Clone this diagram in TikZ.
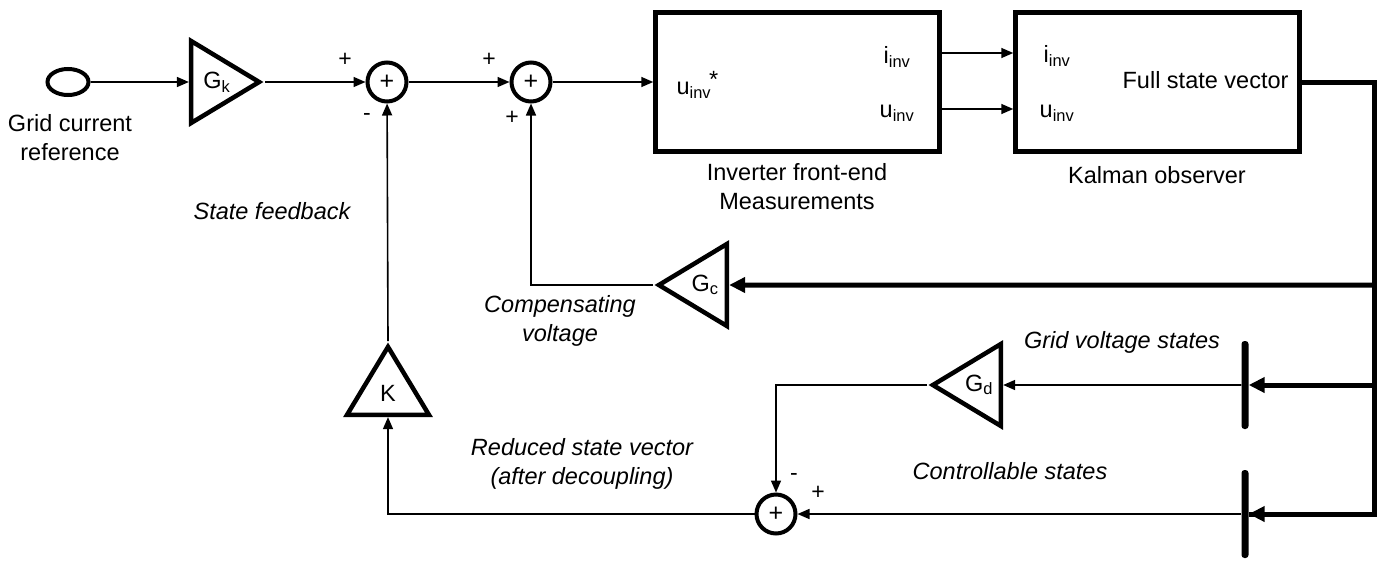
\documentclass[tikz,border=0pt]{standalone}
\usepackage{fontspec}
\setmainfont{Liberation Sans}
\usetikzlibrary{positioning, arrows.meta, shapes.geometric}

\tikzset{
  sig/.style={line width=1.6pt, -{Triangle[length=12pt,width=10pt]}},
  bus/.style={line width=5pt, -{Triangle[length=16pt,width=15pt]}},
  blockbox/.style={draw, line width=4.5pt, minimum width=284pt, minimum height=139pt, inner sep=0pt},
  gain/.style={draw, line width=4.5pt, isosceles triangle, isosceles triangle stretches,
    minimum height=68pt, minimum width=82pt, inner sep=0pt, font=\fontsize{23.5}{28}\selectfont},
  sumnode/.style={draw, circle, line width=4pt, minimum size=39pt, inner sep=0pt, font=\fontsize{25}{25}\selectfont},
  sign/.style={font=\fontsize{23}{23}\selectfont},
  busbar/.style={fill, rounded corners=3pt, minimum width=7pt, inner sep=0pt},
  lbl/.style={font=\fontsize{23.5}{29}\selectfont, align=center},
  note/.style={lbl, font=\fontsize{23.5}{29}\selectfont\itshape},
}

\begin{document}
\begin{tikzpicture}[x=1pt, y=-1pt]
\useasboundingbox (0,0) rectangle (1380,560);

% forward path
\node[draw, ellipse, line width=4pt, minimum width=41pt, minimum height=26pt, inner sep=0pt] (ref) at (68,82) {};
\node[lbl] (reftxt) at (70,138) {Grid current\\reference};
\node[gain, anchor=apex] (gk) at (265,82) {\hspace{6pt}G\textsubscript{k}};
\node[sumnode] (s1) at (387,82) {+};
\node[sumnode] (s2) at (531,82) {+};
\node[blockbox] (inv) at (797.5,82) {};
\node[blockbox] (kal) at (1157.5,82) {};

\node[lbl, anchor=west] (uref) at (673,85) {u\textsubscript{inv}\kern-2pt\raisebox{7pt}{*}};
\node[lbl] (iout) at (897,57) {i\textsubscript{inv}};
\node[lbl] (uout) at (897,113) {u\textsubscript{inv}};
\node[lbl] (iin) at (1057,56) {i\textsubscript{inv}};
\node[lbl] (uin) at (1057,113) {u\textsubscript{inv}};
\node[lbl, anchor=east] (xfull) at (1292,80) {Full state vector};
\node[lbl] (invtxt) at (797,187) {Inverter front-end\\Measurements};
\node[lbl] (kaltxt) at (1157,175) {Kalman observer};

% feedback blocks
\node[gain, shape border rotate=180, anchor=apex] (gc) at (653,285) {G\textsubscript{c}};
\node[gain, shape border rotate=180, anchor=apex] (gd) at (927,385) {G\textsubscript{d}};
\node[gain, shape border rotate=90, anchor=apex] (k) at (388,341) {K};
\node[sumnode] (s3) at (776,514) {+};
\node[busbar, minimum height=88pt] (bar1) at (1245,385) {};
\node[busbar, minimum height=88pt] (bar2) at (1245,514) {};

\coordinate (tr0) at (1374,82);
\coordinate (tr1) at (1374,285);
\coordinate (tr2) at (1374,385);
\coordinate (tr3) at (1374,514);

% signs
\node[sign] at (345,60) {+};
\node[sign] at (367,117) {-};
\node[sign] at (489,60) {+};
\node[sign] at (512,118) {+};
\node[sign] at (794,477) {-};
\node[sign] at (818,493) {+};

% notes
\node[note] at (272,211) {State feedback};
\node[note] at (560,321) {Compensating\\voltage};
\node[note] at (1122,342) {Grid voltage states};
\node[note] at (1010,471) {Controllable states};
\node[note] at (582,464) {Reduced state vector\\(after decoupling)};

% connections
\draw[sig] (ref) -- (gk);
\draw[sig] (gk) -- (s1);
\draw[sig] (s1) -- (s2);
\draw[sig] (s2) -- (inv);
\draw[sig] ([yshift=29pt]inv.east) -- ([yshift=29pt]kal.west);
\draw[sig] ([yshift=-27pt]inv.east) -- ([yshift=-27pt]kal.west);
\draw[line width=5pt] (kal.east) -- (tr0) -- (tr3) -- (bar2);
\draw[bus] (tr1) -- (gc);
\draw[bus] (tr2) -- (bar1);
\draw[bus] (tr3) -- (bar2);
\draw[sig] (gc.apex) -| (s2);
\draw[sig] (bar1) -- (gd);
\draw[sig] (gd.apex) -| (s3);
\draw[sig] (bar2) -- (s3);
\draw[sig] (s3) -| (k);
\draw[sig] (k.apex) -- (s1);
\end{tikzpicture}
\end{document}
